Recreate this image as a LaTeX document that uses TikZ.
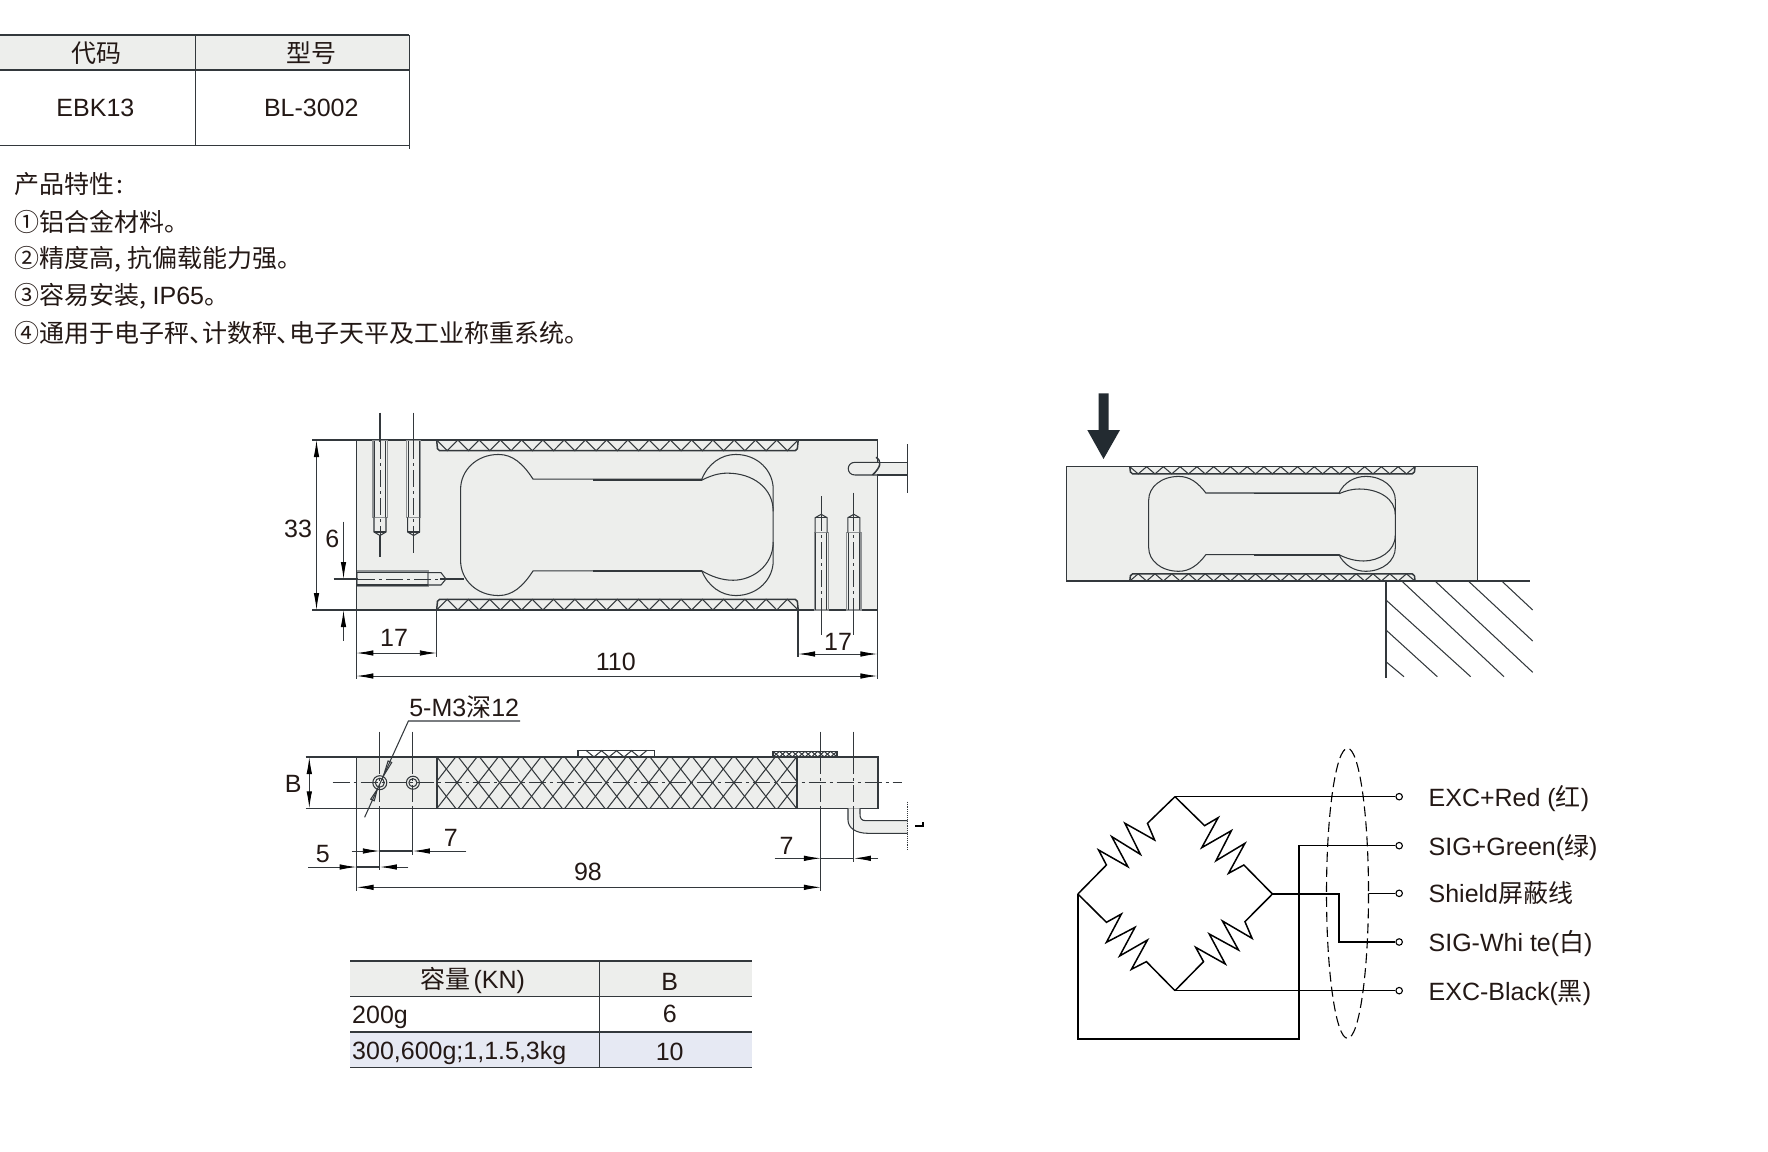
\documentclass[tikz,border=0pt]{standalone}
\usepackage{fontspec}
\setmainfont{Liberation Sans}
\newfontfamily\cjk[RawFeature=+palt]{Noto Sans CJK SC}
\usetikzlibrary{arrows.meta}
\usetikzlibrary{positioning}
\definecolor{linec}{HTML}{33383C}
\definecolor{textc}{HTML}{231815}
\definecolor{cellc}{HTML}{EDEEEC}
\definecolor{rowc}{HTML}{E6E9F3}
\definecolor{arrowc}{HTML}{232B31}
\tikzset{
  thinl/.style={draw=linec, line width=1.05pt},
  thickl/.style={draw=linec, line width=1.5pt},
  threadl/.style={draw=linec!55, line width=1.2pt},
  cenl/.style={draw=linec, line width=0.9pt, dash pattern=on 17pt off 4pt on 3pt off 4pt},
  wirel/.style={draw=black, line width=1.5pt},
  dimarr/.style={draw=linec, line width=0.9pt, -{Latex[length=17pt,width=5.5pt,black]}},
  dimboth/.style={draw=linec, line width=0.9pt, {Latex[length=17pt,width=5.5pt,black]}-{Latex[length=17pt,width=5.5pt,black]}},
  txt/.style={font=\fontsize{25}{30}\selectfont, text=textc, inner sep=0pt},
  terminal/.style={circle, draw=black, line width=1.1pt, fill=white, minimum size=6.5pt, inner sep=0pt},
  wirelabel/.style={txt, text height=19pt, text depth=6pt, yshift=-3pt}
}
\newcommand{\cn}[1]{{\cjk #1}}
\newcommand{\cnc}{\cn{,}\hspace{6pt}}
% load cell outline, in percent of the body
\newcommand{\cellbody}{
  \fill[cellc] (0,0) rectangle (100,100);
  \draw[thickl] (0,0) rectangle (100,100);
  \foreach \i in {0, ..., 16}{
    \draw[thinl] (15.4 + 4.08*\i, 0) -- (17.44 + 4.08*\i, 6.3) -- (19.48 + 4.08*\i, 0);
    \draw[thinl] (15.4 + 4.08*\i, 100) -- (17.44 + 4.08*\i, 93.7) -- (19.48 + 4.08*\i, 100);
  }
  \draw[thickl, rounded corners=2pt] (15.4,0) -- (15.6,6.3) -- (84.6,6.3) -- (84.8,0);
  \draw[thickl, rounded corners=2pt] (15.4,100) -- (15.6,93.7) -- (84.6,93.7) -- (84.8,100);
  \draw[thinl] (33.9,23) .. controls (32,14) and (30,8.5) .. (27.3,8.5)
    .. controls (23,8.5) and (20,18) .. (20,29) -- (20,71)
    .. controls (20,82) and (23,91.5) .. (27.3,91.5)
    .. controls (30,91.5) and (32,86) .. (33.9,77) -- (66.3,77)
    .. controls (67.5,86) and (70,91.5) .. (72.8,91.5)
    .. controls (77,91.5) and (80,82) .. (80,71) -- (80,29)
    .. controls (80,18) and (77,8.5) .. (72.8,8.5)
    .. controls (70,8.5) and (67.5,14) .. (66.3,23) -- cycle;
  \draw[thinl] (66.3,23.6) .. controls (68,21) and (69.5,19.5) .. (71.2,19.5)
    .. controls (76,19.5) and (80,28) .. (80,42);
  \draw[thinl] (66.3,77) .. controls (68,80) and (70,82.5) .. (72.3,82.5)
    .. controls (76,82.5) and (80,74) .. (80,60);
  \draw[thickl] (45.5,23.4) -- (66.3,23.4);
  \draw[thickl] (45.5,77.2) -- (66.3,77.2);
}

\begin{document}
\begin{tikzpicture}[x=1pt, y=-1pt]
  \useasboundingbox (0,0) rectangle (1768,1151);

  % model table
  \fill[cellc] (0,35) rectangle (409.4,70);
  \draw[thickl] (0,35) -- (409.4,35);
  \draw[thickl] (0,70) -- (409.4,70);
  \draw[thickl] (0,145.3) -- (409.4,145.3);
  \draw[thinl] (195.7,35) -- (195.7,145.3);
  \draw[thinl] (409.4,35) -- (409.4,149.3);
  \node[txt] (codehead) at (96.7,53.3) {\cn{代码}};
  \node[txt] (typehead) at (311.3,53.3) {\cn{型号}};
  \node[txt] (codeval) at (95.4,108.3) {EBK13};
  \node[txt] (typeval) at (311.3,108.3) {BL-3002};

  % features
  \node[txt, anchor=west] (feat0) at (14.5,184) {\cn{产品特性}\hspace{2pt}\cn{:}};
  \node[txt, anchor=west] (feat1) at (14.5,222) {\cn{①铝合金材料。}};
  \node[txt, anchor=west] (feat2) at (14.5,259.3) {\cn{②精度高}\cnc\cn{抗偏载能力强。}};
  \node[txt, anchor=west] (feat3) at (14.5,296.3) {\cn{③容易安装}\cnc IP65\cn{。}};
  \node[txt, anchor=west] (feat4) at (14.5,332.7) {\cn{④通用于电子秤、计数秤、电子天平及工业称重系统。}};

  % side view
  \begin{scope}[shift={(356.4,440)}, x=5.21pt, y=-1.7pt]
    \cellbody
  \end{scope}
  \foreach \hx/\hend in {380/556.7, 413.6/553.3}{
    \draw[threadl] (\hx - 7.1,440.7) rectangle (\hx + 7.1,517.3);
    \draw[thinl] (\hx - 5.5,440.7) -- (\hx - 5.5,517.3);
    \draw[thinl] (\hx + 5.5,440.7) -- (\hx + 5.5,517.3);
    \draw[thinl] (\hx - 6,517.3) -- (\hx - 6,532) -- (\hx,535.5) -- (\hx + 6,532) -- (\hx + 6,517.3);
    \draw[thinl] (\hx - 6,532) -- (\hx + 6,532);
    \draw[thinl] (\hx,412.5) -- (\hx,442);
    \draw[cenl] (\hx,442) -- (\hx,535);
    \draw[thinl] (\hx,535) -- (\hx,\hend);
  }
  \foreach \hx/\hstart in {821.2/496, 853.8/492.7}{
    \draw[threadl] (\hx - 7.1,532.7) rectangle (\hx + 7.1,610);
    \draw[thinl] (\hx - 5.5,532.7) -- (\hx - 5.5,610);
    \draw[thinl] (\hx + 5.5,532.7) -- (\hx + 5.5,610);
    \draw[thinl] (\hx - 6,532.7) -- (\hx - 6,517.7) -- (\hx,514.3) -- (\hx + 6,517.7) -- (\hx + 6,532.7);
    \draw[thinl] (\hx - 6,517.7) -- (\hx + 6,517.7);
    \draw[thinl] (\hx,\hstart) -- (\hx,514.3);
    \draw[cenl] (\hx,514.3) -- (\hx,608);
    \draw[thinl] (\hx,608) -- (\hx,635);
  }
  \draw[threadl] (357.3,571) rectangle (427.9,586.7);
  \draw[thinl] (357.3,572.7) -- (427.9,572.7);
  \draw[thinl] (357.3,585) -- (427.9,585);
  \draw[thinl] (427.9,572.7) -- (441,572.7) -- (446,579) -- (441,585) -- (427.9,585);
  \draw[thinl] (333.7,579) -- (358,579);
  \draw[cenl] (358,579) -- (440,579);
  \draw[thinl] (440,579) -- (464,579);
  % cable stub
  \fill[cellc] (877.4,462.3) -- (907.3,462.3) -- (907.3,475) -- (877.4,475) -- cycle;
  \draw[thinl] (877.4,462.3) -- (855,462.3) .. controls (846,462.3) and (846,475) .. (855,475) -- (877.4,475);
  \draw[thinl] (877.4,462.3) -- (907.3,462.3);
  \draw[thinl] (877.4,475) -- (907.3,475);
  \draw[thinl] (907.3,444) -- (907.3,493.3);
  \draw[thickl] (876,457.3) .. controls (882,461) and (881,467) .. (872.5,475);

  % side view dimensions
  \draw[thinl] (312.2,440) -- (356.4,440);
  \draw[thinl] (312.2,610) -- (356.4,610);
  \draw[thinl] (356.4,610) -- (356.4,679.3);
  \draw[thinl] (436.8,610) -- (436.8,656.7);
  \draw[thinl] (798,610) -- (798,657.3);
  \draw[thinl] (877.4,610) -- (877.4,679.3);
  \draw[dimboth] (316.5,440) -- (316.5,610);
  \draw[dimarr] (343.5,521.7) -- (343.5,579);
  \draw[dimarr] (343.5,640.7) -- (343.5,610);
  \draw[dimboth] (356.4,653) -- (436.8,653);
  \draw[dimboth] (798,654) -- (877.4,654);
  \draw[dimboth] (356.4,676) -- (877.4,676);
  \node[txt] (dimthree) at (298,529) {33};
  \node[txt] (dimsix) at (332.3,539) {6};
  \node[txt] (dimleft) at (394,638.3) {17};
  \node[txt] (dimright) at (838,642.3) {17};
  \node[txt] (dimlong) at (615.8,662.3) {110};

  % top view
  \fill[cellc] (356.6,757) rectangle (878,808.3);
  \begin{scope}
    \clip (437,757) rectangle (797.2,808.3);
    \foreach \i in {-3, ..., 18}{
      \draw[thinl] (437 + 21.3*\i,808.3) -- (437 + 21.3*\i + 40,757);
      \draw[thinl] (437 + 21.3*\i,757) -- (437 + 21.3*\i + 40,808.3);
    }
  \end{scope}
  \draw[thickl] (356.6,757) rectangle (878,808.3);
  \draw[thickl] (437,757) -- (437,808.3);
  \draw[thickl] (797.2,757) -- (797.2,808.3);
  \draw[thinl] (578,757) -- (578,750.3) -- (654.8,750.3) -- (654.8,757);
  \foreach \i in {0, 1, 2, 3}{
    \draw[thinl] (586 + 15*\i,750.3) -- (594 + 15*\i,757) -- (602 + 15*\i,750.3);
  }
  \draw[thinl] (773,757) -- (773,751.3) -- (837,751.3) -- (837,757);
  \foreach \i in {0, ..., 9}{
    \draw[thinl] (773 + 6.4*\i,751.3) -- (779.4 + 6.4*\i,757);
    \draw[thinl] (779.4 + 6.4*\i,751.3) -- (773 + 6.4*\i,757);
  }
  \draw[cenl] (332.5,782.7) -- (901.7,782.7);
  \draw[thinl] (379.8,782.7) circle (7);
  \draw[thinl] (379.8,782.7) circle (4.5);
  \draw[thinl] (412.9,782.7) circle (6.5);
  \draw[thinl] (412.9,782.7) circle (4);
  \foreach \hx/\hend in {379.8/870, 412.9/855}{
    \draw[thinl] (\hx,731.7) -- (\hx,757);
    \draw[cenl] (\hx,757) -- (\hx,808.3);
    \draw[thinl] (\hx,808.3) -- (\hx,\hend);
  }
  \draw[thinl] (520,721) -- (408.4,721) -- (364.6,817.3);
  \draw[thinl] (383.4,776) -- (391.7,762.5) -- (388.1,760.9) -- cycle;
  \draw[thinl] (377.2,789.5) -- (374.3,800.8) -- (370.7,799.2) -- cycle;
  \node[txt] (threadlabel) at (464.2,707.3) {5-M3\cn{深}12};
  % top view cable
  \fill[cellc] (848,808.3) -- (848,820) .. controls (848,828) and (856,833.3) .. (868,833.3) -- (907.5,833.3) -- (907.5,820.7)
    -- (866,820.7) .. controls (861,820.7) and (860,818) .. (860,814) -- (860,808.3) -- cycle;
  \draw[thinl] (848,808.3) -- (848,820) .. controls (848,828) and (856,833.3) .. (868,833.3) -- (907.5,833.3);
  \draw[thinl] (860,808.3) -- (860,814) .. controls (860,818) and (861,820.7) .. (866,820.7) -- (907.5,820.7);
  \draw[draw=linec, line width=0.9pt, densely dotted] (907.5,801.7) -- (907.5,850);
  \draw[draw=black, line width=1.5pt] (915,826) -- (923,826) -- (923,821.7);

  % top view dimensions
  \draw[thinl] (305.7,757) -- (356.6,757);
  \draw[thinl] (305.7,808.3) -- (356.6,808.3);
  \draw[thinl] (356.6,808.3) -- (356.6,890.7);
  \draw[thinl] (820.9,731.7) -- (820.9,757);
  \draw[cenl] (820.9,757) -- (820.9,808.3);
  \draw[thinl] (820.9,808.3) -- (820.9,890.7);
  \draw[thinl] (853.9,731.7) -- (853.9,757);
  \draw[cenl] (853.9,757) -- (853.9,808.3);
  \draw[thinl] (853.9,808.3) -- (853.9,861.7);
  \draw[dimboth] (309.3,757) -- (309.3,808.3);
  \draw[dimarr] (351.7,851) -- (379.8,851);
  \draw[thinl] (379.8,851) -- (412.9,851);
  \draw[dimarr] (466.4,851) -- (412.9,851);
  \draw[dimarr] (308,867) -- (356.6,867);
  \draw[thinl] (356.6,867) -- (379.8,867);
  \draw[dimarr] (408.4,867) -- (379.8,867);
  \draw[dimboth] (356.6,887.3) -- (820.9,887.3);
  \draw[dimarr] (774.5,858.3) -- (820.9,858.3);
  \draw[thinl] (820.9,858.3) -- (853.9,858.3);
  \draw[dimarr] (878,858.3) -- (853.9,858.3);
  \node[txt] (dimb) at (293.2,784.3) {B};
  \node[txt] (dimseven) at (450.8,838.3) {7};
  \node[txt] (dimfive) at (322.7,854) {5};
  \node[txt] (dimlen) at (587.9,871.7) {98};
  \node[txt] (dimsevenb) at (786.5,845.7) {7};

  % capacity table
  \fill[cellc] (350,961) rectangle (751.7,996.7);
  \fill[rowc] (350,1032) rectangle (751.7,1067.3);
  \draw[thickl] (350,961) -- (751.7,961);
  \draw[thickl] (350,996.7) -- (751.7,996.7);
  \draw[thickl] (350,1032) -- (751.7,1032);
  \draw[thickl] (350,1067.3) -- (751.7,1067.3);
  \draw[thickl] (599.3,961) -- (599.3,1067.3);
  \node[txt] (capahead) at (472.7,980.7) {\cn{容量}\hspace{3pt}(KN)};
  \node[txt] (bhead) at (669.7,981.7) {B};
  \node[txt, anchor=west] (capaone) at (352,1017) {200g};
  \node[txt] (bone) at (669.7,1014.3) {6};
  \node[txt, anchor=west] (capatwo) at (352,1053) {300,600g;1,1.5,3kg};
  \node[txt] (btwo) at (669.7,1051.5) {10};

  % front view with load
  \begin{scope}[shift={(1066.5,466.7)}, x=4.11pt, y=-1.143pt]
    \cellbody
  \end{scope}
  \fill[arrowc] (1098.7,393.3) -- (1108.7,393.3) -- (1108.7,430) -- (1120,430) -- (1103.5,459) -- (1087.3,430) -- (1098.7,430) -- cycle;
  \draw[thinl] (1386,581) -- (1530,581);
  \draw[thinl] (1386,581) -- (1386,678.3);
  \foreach \ax/\ay/\bx/\by in {1501.7/581/1532.7/610, 1468.3/581/1532.7/641, 1435/581/1532.7/672.3, 1401.7/581/1504/676.7, 1386/600/1470.7/676.7, 1386/630/1437.3/676.7, 1386/661.7/1404/676.7}{
    \draw[thinl] (\ax,\ay) -- (\bx,\by);
  }

  % bridge wiring
  \begin{scope}[shift={(1060,740)}, x=0.357pt, y=-0.3333pt]
    \coordinate (brtop) at (322,170);
    \coordinate (brleft) at (50,462);
    \coordinate (brright) at (595,462);
    \coordinate (brbot) at (322,752);
    \coordinate (shieldtap) at (865,460);
    \coordinate (sigcorner) at (670,897);
    \coordinate (leftcorner) at (50,897);
    \coordinate (whitea) at (782,462);
    \coordinate (whiteb) at (782,606);
    \node[terminal] (tred) at (950,170) {};
    \node[terminal] (tgreen) at (950,317) {};
    \node[terminal] (tshield) at (950,460) {};
    \node[terminal] (twhite) at (950,606) {};
    \node[terminal] (tblack) at (950,752) {};
    \draw[wirel] (brtop) -- (245,250) -- (265,300) -- (182,250) -- (225,343) -- (145,290) -- (190,380) -- (108,330) -- (130,375) -- (brleft);
    \draw[wirel] (brtop) -- (405,257) -- (443,233) -- (397,323) -- (480,272) -- (437,362) -- (518,310) -- (472,400) -- (515,375) -- (brright);
    \draw[wirel] (brleft) -- (130,547) -- (172,522) -- (130,607) -- (210,562) -- (167,648) -- (245,600) -- (200,688) -- (242,665) -- (brbot);
    \draw[wirel] (brright) -- (518,545) -- (538,595) -- (455,543) -- (500,630) -- (418,582) -- (463,672) -- (380,622) -- (402,665) -- (brbot);
    \draw[wirel] (brtop) -- (tred);
    \draw[wirel] (brbot) -- (tblack);
    \draw[wirel] (brleft) -- (leftcorner) -- (sigcorner) |- (tgreen);
    \draw[wirel] (brright) -- (whitea) -- (whiteb) -- (twhite);
    \draw[wirel] (shieldtap) -- (tshield);
  \end{scope}
  \draw[draw=black, line width=1.1pt, dash pattern=on 10pt off 5pt] (1347.5,893.3) ellipse [x radius=21, y radius=145];
  \node[wirelabel, right=25.5pt of tred] (lred) {EXC+Red (\cn{红})};
  \node[wirelabel, right=25.5pt of tgreen] (lgreen) {SIG+Green(\cn{绿})};
  \node[wirelabel, right=25.5pt of tshield] (lshield) {Shield\cn{屏蔽线}};
  \node[wirelabel, right=25.5pt of twhite] (lwhite) {SIG-Whi te(\cn{白})};
  \node[wirelabel, right=25.5pt of tblack] (lblack) {EXC-Black(\cn{黑})};
\end{tikzpicture}
\end{document}
